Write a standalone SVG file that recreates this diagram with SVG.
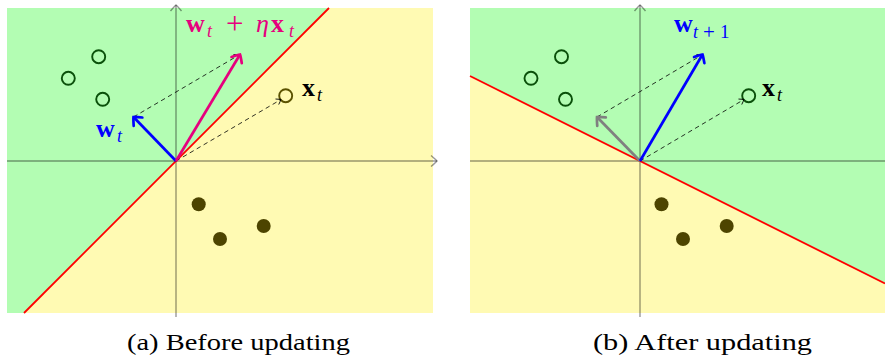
<svg xmlns="http://www.w3.org/2000/svg" width="885" height="358" viewBox="0 0 885 358">
<style>
.green{fill:#b3fdb3}
.yellow{fill:#fffab3}
.axis{stroke:#000;stroke-opacity:0.4;stroke-width:1.4;fill:none}
.sep{stroke:#ff0000;stroke-width:1.8;fill:none}
.pos{fill:none;stroke:#0a500a;stroke-width:1.9}
.neg{fill:#4d4400;stroke:none}
.dash{stroke:#000;stroke-width:0.8;stroke-dasharray:4.5,3.5;fill:none;marker-end:url(#hd)}
.vec{stroke-width:2.7;fill:none}
.m{font-family:"Liberation Serif","Times New Roman",serif;font-size:26px}
.b{font-weight:bold}
.i{font-style:italic}
.s{font-size:18px;font-style:italic}
.cap{font-family:"Liberation Serif","Times New Roman",serif;font-size:23px;fill:#000}
</style>
<defs>
<marker id="ha" markerUnits="userSpaceOnUse" markerWidth="14" markerHeight="14" viewBox="-8 -7 10 14" refX="0" refY="0" orient="auto" overflow="visible">
<path d="M-6,-5.5 Q-1,-1.3 0,0 Q-1,1.3 -6,5.5" fill="none" stroke="#000" stroke-opacity="0.4" stroke-width="1.4"/>
</marker>
<marker id="hd" markerUnits="userSpaceOnUse" markerWidth="10" markerHeight="10" viewBox="-6 -5 8 10" refX="0" refY="0" orient="auto" overflow="visible">
<path d="M-4.5,-3.2 Q-1,-0.8 0,0 Q-1,0.8 -4.5,3.2" fill="none" stroke="#000" stroke-width="0.8"/>
</marker>
<marker id="hb" markerUnits="userSpaceOnUse" markerWidth="16" markerHeight="16" viewBox="-9 -8 11 16" refX="0" refY="0" orient="auto" overflow="visible">
<path d="M-6.5,-6 Q-1.3,-1.6 0,0 Q-1.3,1.6 -6.5,6" fill="none" stroke="#0000ff" stroke-width="2.7" stroke-linecap="round"/>
</marker>
<marker id="hm" markerUnits="userSpaceOnUse" markerWidth="16" markerHeight="16" viewBox="-9 -8 11 16" refX="0" refY="0" orient="auto" overflow="visible">
<path d="M-6.5,-6 Q-1.3,-1.6 0,0 Q-1.3,1.6 -6.5,6" fill="none" stroke="#e6007e" stroke-width="2.7" stroke-linecap="round"/>
</marker>
<marker id="hg" markerUnits="userSpaceOnUse" markerWidth="16" markerHeight="16" viewBox="-9 -8 11 16" refX="0" refY="0" orient="auto" overflow="visible">
<path d="M-6.5,-6 Q-1.3,-1.6 0,0 Q-1.3,1.6 -6.5,6" fill="none" stroke="#808080" stroke-width="2.7" stroke-linecap="round"/>
</marker>
</defs>

<!-- Panel (a) -->
<g id="panel-a">
<polygon class="green" points="7,8 329,8 24,313 7,313"/>
<polygon class="yellow" points="329,8 433,8 433,313 24,313"/>
<line class="axis" x1="7" y1="161" x2="437" y2="161" marker-end="url(#ha)"/>
<line class="axis" x1="176" y1="317" x2="176" y2="5" marker-end="url(#ha)"/>
<line class="sep" x1="24" y1="313" x2="329" y2="8"/>
</g>
<g id="a-pos1"><circle class="pos" cx="98.7" cy="56.7" r="6.5"/></g>
<g id="a-pos2"><circle class="pos" cx="68.3" cy="78.3" r="6.5"/></g>
<g id="a-pos3"><circle class="pos" cx="102.7" cy="99.3" r="6.5"/></g>
<g id="a-xt"><circle cx="285.7" cy="95.7" r="6.5" fill="none" stroke="#5b5200" stroke-width="1.9"/></g>
<g id="a-neg1"><circle class="neg" cx="198.7" cy="204.3" r="7"/></g>
<g id="a-neg2"><circle class="neg" cx="220" cy="239" r="7"/></g>
<g id="a-neg3"><circle class="neg" cx="263.7" cy="226" r="7"/></g>

<!-- Panel (b) -->
<g id="panel-b">
<polygon class="green" points="470,8 885,8 885,283.5 470,76"/>
<polygon class="yellow" points="470,76 885,283.5 885,313 470,313"/>
<line class="axis" x1="470" y1="161" x2="885" y2="161"/>
<line class="axis" x1="640" y1="317" x2="640" y2="5" marker-end="url(#ha)"/>
<line class="sep" x1="470" y1="76" x2="885" y2="283.5"/>
</g>
<g id="b-pos1"><circle class="pos" cx="561.5" cy="56.7" r="6.5"/></g>
<g id="b-pos2"><circle class="pos" cx="531" cy="78.3" r="6.5"/></g>
<g id="b-pos3"><circle class="pos" cx="565.5" cy="99.3" r="6.5"/></g>
<g id="b-xt"><circle class="pos" cx="748.7" cy="95.7" r="6.5"/></g>
<g id="b-neg1"><circle class="neg" cx="661.5" cy="204.3" r="7"/></g>
<g id="b-neg2"><circle class="neg" cx="683" cy="239" r="7"/></g>
<g id="b-neg3"><circle class="neg" cx="726.7" cy="226" r="7"/></g>

<g id="connectors">
<line class="dash" x1="133.5" y1="117" x2="239" y2="55"/>
<line class="dash" x1="176" y1="161" x2="281" y2="99.5"/>
<line class="vec" stroke="#0000ff" x1="176" y1="161" x2="133.5" y2="117" marker-end="url(#hb)"/>
<line class="vec" stroke="#e6007e" x1="176" y1="161" x2="240" y2="54.5" marker-end="url(#hm)"/>
<line class="dash" x1="597" y1="117" x2="702" y2="55"/>
<line class="dash" x1="640" y1="161" x2="744" y2="99.5"/>
<line class="vec" stroke="#808080" x1="640" y1="161" x2="597" y2="117" marker-end="url(#hg)"/>
<line class="vec" stroke="#0000ff" x1="640" y1="161" x2="702.5" y2="54.5" marker-end="url(#hb)"/>
</g>

<g id="labels">
<text class="m" fill="#e6007e" y="32"><tspan class="b" x="186">w</tspan><tspan class="s" x="207" y="37">t</tspan><tspan x="226" y="34" font-size="31">+</tspan><tspan class="i" x="256" y="32">η</tspan><tspan class="b" x="271">x</tspan><tspan class="s" x="289" y="37">t</tspan></text>
<text class="m" fill="#0000ff" y="137"><tspan class="b" x="96">w</tspan><tspan class="s" x="117" y="142">t</tspan></text>
<text class="m" fill="#000" y="96"><tspan class="b" x="302">x</tspan><tspan class="s" x="317" y="101">t</tspan></text>
<text class="m" fill="#0000ff" y="32"><tspan class="b" x="674">w</tspan><tspan class="s" x="693" y="38">t</tspan><tspan x="703" y="39" font-size="21">+</tspan><tspan x="720" y="38" font-size="19">1</tspan></text>
<text class="m" fill="#000" y="96"><tspan class="b" x="762">x</tspan><tspan class="s" x="777" y="101">t</tspan></text>
<text class="cap" x="127" y="350" textLength="223" lengthAdjust="spacingAndGlyphs">(a) Before updating</text>
<text class="cap" x="593" y="350" textLength="219" lengthAdjust="spacingAndGlyphs">(b) After updating</text>
</g>
</svg>
